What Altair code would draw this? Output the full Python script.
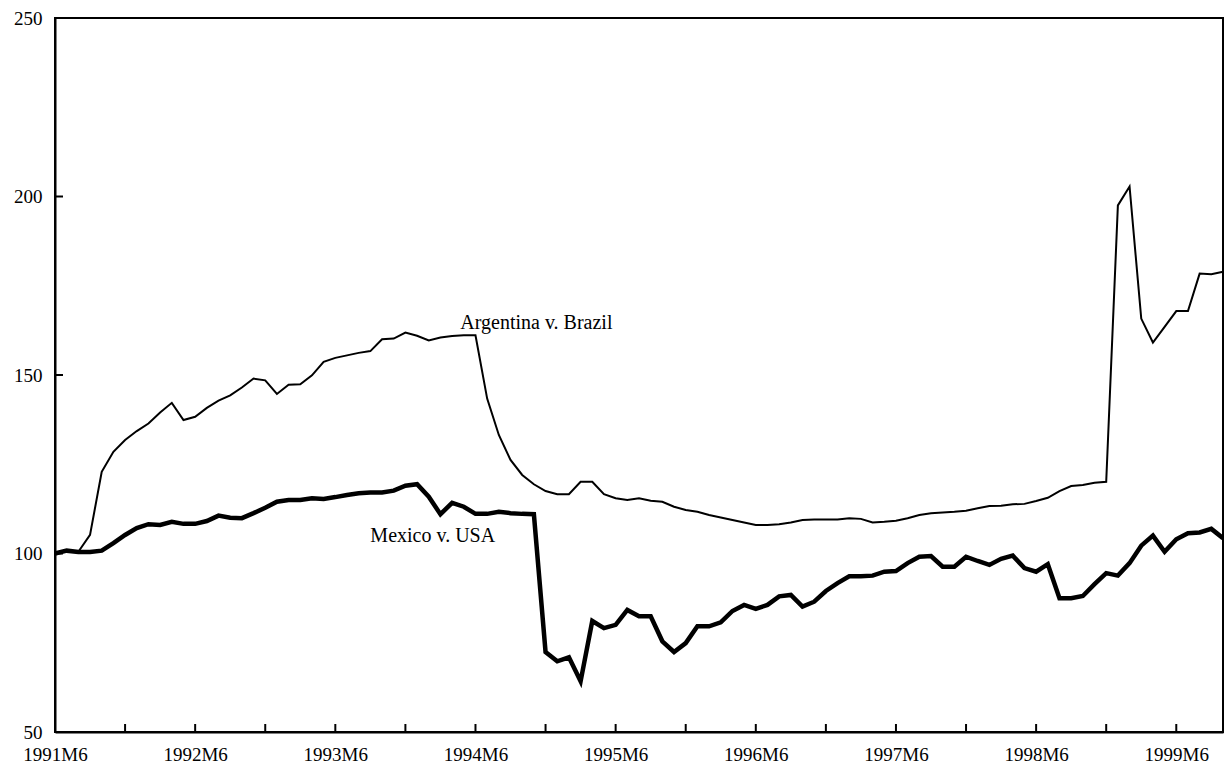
import altair as alt
import pandas as pd

# Monthly index 1991M6 .. 1999M10
months = [f"{1991 + (5 + i) // 12}M{(5 + i) % 12 + 1}" for i in range(101)]

argentina = [
    100.0, 101.0, 100.5, 105.2, 122.9, 128.5, 131.8, 134.3, 136.4, 139.5,
    142.2, 137.4, 138.3, 140.8, 142.8, 144.3, 146.5, 149.0, 148.5, 144.7,
    147.3, 147.4, 149.9, 153.7, 154.8, 155.5, 156.2, 156.7, 160.0, 160.2,
    161.9, 161.0, 159.7, 160.5, 160.9, 161.1, 161.1, 143.4, 133.2, 126.2,
    122.0, 119.4, 117.5, 116.6, 116.6, 120.1, 120.1, 116.6, 115.5, 115.0,
    115.5, 114.8, 114.5, 113.1, 112.2, 111.7, 110.8, 110.1, 109.4, 108.7,
    108.0, 108.0, 108.2, 108.7, 109.4, 109.5, 109.5, 109.5, 109.9, 109.7,
    108.7, 108.9, 109.2, 109.9, 110.8, 111.3, 111.5, 111.7, 112.0, 112.7,
    113.3, 113.4, 113.8, 113.9, 114.7, 115.6, 117.5, 118.9, 119.2, 119.8,
    120.1, 197.5, 202.8, 165.8, 159.1, 163.5, 167.9, 167.9, 178.4, 178.2,
    178.9,
]

mexico = [
    100.0, 100.8, 100.4, 100.4, 100.8, 102.9, 105.2, 107.1, 108.2, 108.0,
    108.9, 108.3, 108.3, 109.1, 110.6, 110.0, 109.9, 111.3, 112.8, 114.5,
    115.0, 115.0, 115.5, 115.3, 115.8, 116.4, 116.9, 117.1, 117.1, 117.6,
    119.0, 119.4, 115.9, 111.0, 114.2, 113.1, 111.1, 111.1, 111.7, 111.3,
    111.1, 111.0, 72.4, 69.8, 70.9, 64.2, 81.1, 79.1, 80.0, 84.2,
    82.4, 82.4, 75.4, 72.4, 74.9, 79.6, 79.6, 80.7, 83.9, 85.6,
    84.5, 85.6, 88.0, 88.4, 85.1, 86.5, 89.5, 91.7, 93.6, 93.6,
    93.8, 94.9, 95.1, 97.3, 99.1, 99.3, 96.3, 96.3, 99.1, 97.9,
    96.8, 98.5, 99.4, 95.9, 94.9, 97.0, 87.5, 87.5, 88.1, 91.4,
    94.5, 93.8, 97.3, 102.2, 105.0, 100.5, 104.0, 105.7, 105.9, 106.9,
    104.3,
]

series_names = ["Argentina v. Brazil", "Mexico v. USA"]

# axis labels (one per year, every 12 months) and minor tick months
x_label_values = list(range(0, 97, 12))
x_labels = [months[v] for v in x_label_values]
x_tick_months = list(range(6, 97, 6))
y_values = [50, 100, 150, 200, 250]
y_tick_values = [100, 150, 200]

# annotation labels: text, month index, value
ann_text = ["Argentina v. Brazil", "Mexico v. USA"]
ann_month = [34.7, 27.0]
ann_value = [162.8, 103.1]

rows = []
for i, m in enumerate(months):
    rows.append({"idx": i, "month": m, "series": series_names[0], "value": argentina[i]})
    rows.append({"idx": i, "month": m, "series": series_names[1], "value": mexico[i]})
df = pd.DataFrame(rows)

FONT = "Liberation Serif"
label_expr = "[" + ",".join(f"'{s}'" for s in x_labels) + "][round(datum.value/12)]"

xscale = alt.Scale(domain=[0, 100], nice=False, zero=False)
yscale = alt.Scale(domain=[50, 250], nice=False, zero=False)

H = 714

lines = alt.Chart(df).mark_line(color="black", strokeJoin="miter").encode(
    x=alt.X("idx:Q", scale=xscale,
            axis=alt.Axis(values=x_label_values, labelExpr=label_expr, title=None,
                          grid=False, ticks=False, tickSize=0, domainColor="black",
                          domainWidth=2, labelFont=FONT, labelFontSize=19,
                          labelColor="black", labelPadding=13, labelFlush=False,
                          labelOverlap=False)),
    y=alt.Y("value:Q", scale=yscale,
            axis=alt.Axis(values=y_values, title=None, grid=False, ticks=False,
                          tickSize=0, domainColor="black", domainWidth=2,
                          labelFont=FONT, labelFontSize=19, labelColor="black",
                          labelPadding=13, labelFlush=False, labelOverlap=False)),
    detail="series:N",
    strokeWidth=alt.StrokeWidth("series:N",
                                scale=alt.Scale(domain=series_names, range=[2, 4.5]),
                                legend=None),
)

xticks = alt.Chart(pd.DataFrame({"t": x_tick_months})).mark_rule(
    color="black", strokeWidth=2
).encode(
    x=alt.X("t:Q", scale=xscale),
    y=alt.value(H),
    y2=alt.value(H - 8),
)

yticks = alt.Chart(pd.DataFrame({"v": y_tick_values})).mark_rule(
    color="black", strokeWidth=2
).encode(
    y=alt.Y("v:Q", scale=yscale),
    x=alt.value(0),
    x2=alt.value(8),
)

ann = alt.Chart(pd.DataFrame({"text": ann_text, "m": ann_month, "v": ann_value})).mark_text(
    font=FONT, fontSize=20, color="black", align="left", baseline="alphabetic"
).encode(
    x=alt.X("m:Q", scale=xscale),
    y=alt.Y("v:Q", scale=yscale),
    text="text:N",
)

chart = alt.layer(lines, xticks, yticks, ann).properties(
    width=1168,
    height=H,
    padding={"left": 47, "top": 10, "right": 1, "bottom": 36},
    autosize=alt.AutoSizeParams(type="none"),
    background="white",
).configure_view(stroke="black", strokeWidth=2)

chart.save("out.html", embed_options={"renderer": "svg", "actions": False})
